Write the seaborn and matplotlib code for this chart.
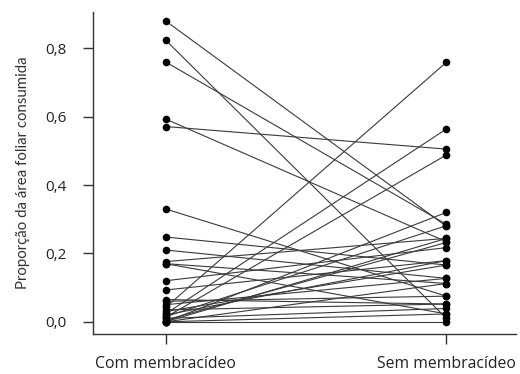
import numpy as np
import pandas as pd
import seaborn as sns
import matplotlib.pyplot as plt

# paired proportions of leaf area consumed, one pair per plant
com_membracideo = [0.880, 0.824, 0.760, 0.593, 0.571, 0.330, 0.248, 0.210, 0.176, 0.170,
                   0.120, 0.093, 0.065, 0.042, 0.023, 0.013, 0.000, 0.000, 0.005, 0.010,
                   0.000, 0.000, 0.030, 0.050, 0.015, 0.170, 0.060, 0.000, 0.020, 0.035]
sem_membracideo = [0.279, 0.010, 0.285, 0.234, 0.505, 0.075, 0.166, 0.127, 0.244, 0.112,
                   0.217, 0.179, 0.052, 0.759, 0.564, 0.488, 0.320, 0.244, 0.232, 0.039,
                   0.023, 0.000, 0.166, 0.127, 0.281, 0.023, 0.075, 0.112, 0.179, 0.052]
categorias = ["Com membracídeo", "Sem membracídeo"]
y_ticks = [0.0, 0.2, 0.4, 0.6, 0.8]
y_labels = ["0,0", "0,2", "0,4", "0,6", "0,8"]

n = len(com_membracideo)
df = pd.DataFrame({
    "planta": list(range(n)) * 2,
    "grupo": [0] * n + [1] * n,
    "proporcao": com_membracideo + sem_membracideo,
})

sns.set_style("ticks")
plt.rcParams['font.family'] = ['Open Sans', 'DejaVu Sans']

fig = plt.figure(figsize=(5.2, 3.74), dpi=100)
ax = fig.add_axes([0.179, 0.108, 0.813, 0.860])

sns.lineplot(data=df, x="grupo", y="proporcao", units="planta", estimator=None,
             color="#3a3a3a", linewidth=0.8, ax=ax, legend=False)
sns.scatterplot(data=df, x="grupo", y="proporcao", color="black", s=30,
                edgecolor="black", linewidth=0, ax=ax, legend=False, zorder=3)

ax.set_xlim(-0.258, 1.247)
ax.set_ylim(-0.0345, 0.906)
ax.set_xticks([0, 1])
ax.set_xticklabels(categorias, fontsize=11.3, color="#222222")
ax.set_yticks(y_ticks)
ax.set_yticklabels(y_labels, fontsize=11, color="#222222")
ax.set_xlabel("")
ax.set_ylabel("Proporção da área foliar consumida", fontsize=10.8, color="#333333",
              labelpad=11, family=['Lato', 'DejaVu Sans'])

for side in ["top", "right"]:
    ax.spines[side].set_visible(False)
for side in ["left", "bottom"]:
    ax.spines[side].set_color("#333333")
    ax.spines[side].set_linewidth(1.0)
ax.tick_params(axis="both", length=7, width=1.0, color="#333333")
ax.tick_params(axis="x", pad=9)
ax.tick_params(axis="y", pad=12)

fig.savefig("out.png", dpi=100)
